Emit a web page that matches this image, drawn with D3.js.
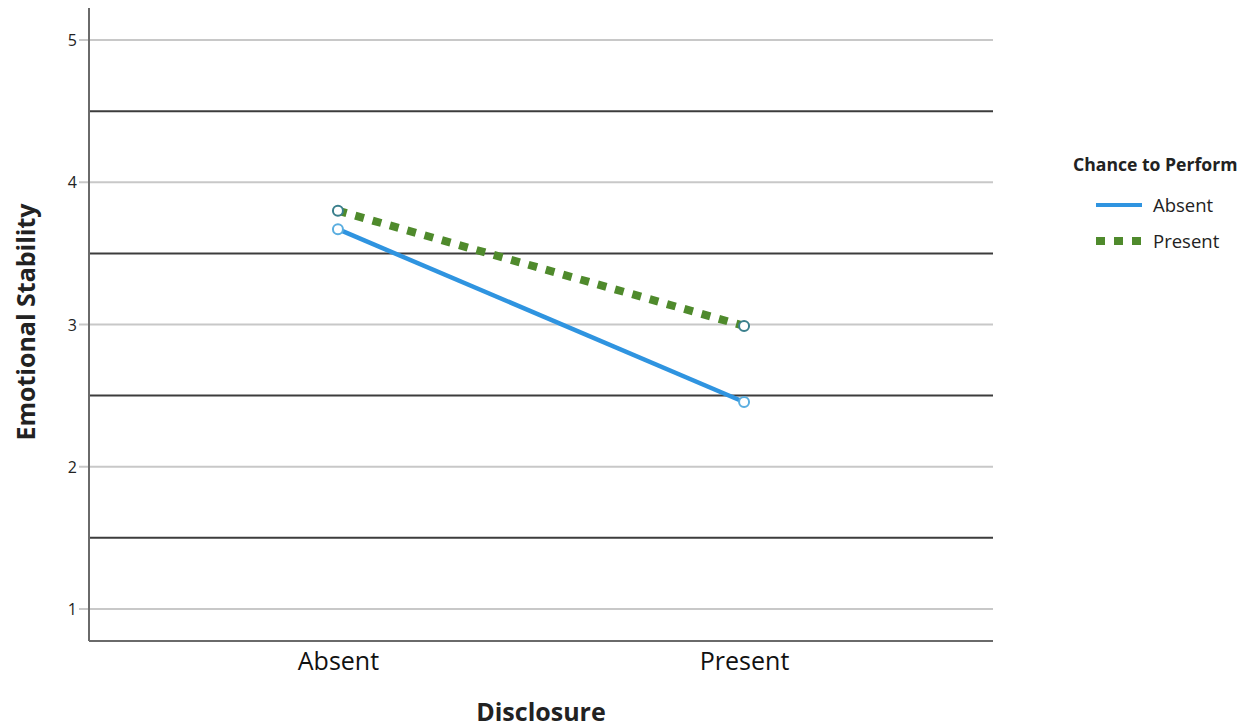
<!DOCTYPE html>
<html><head><meta charset="utf-8">
<script src="https://cdn.jsdelivr.net/npm/d3@7"></script>
<style>body{margin:0;background:#fff;} text{font-family:"Open Sans",sans-serif;}</style>
</head><body>
<svg id="c" width="1250" height="728"></svg>
<script>
const categories = ["Absent", "Present"];
const seriesNames = ["Absent", "Present"];
const absentValues = [3.67, 2.455];
const presentValues = [3.80, 2.99];
const yTicks = [1, 2, 3, 4, 5];
const yMinorLines = [1.5, 2.5, 3.5, 4.5];

(function () {
const svg = d3.select("#c");
const pL = 89, pR = 993, pT = 8, pB = 641;
const x = d3.scalePoint().domain(categories).range([pL, pR]).padding(0.613);
const y = d3.scaleLinear().domain([0.775, 5.225]).range([pB, pT]);

// gray gridlines at ticks
svg.append("g").selectAll("line").data(yTicks).join("line")
  .attr("x1", pL - 10).attr("x2", pR).attr("y1", d => y(d)).attr("y2", d => y(d))
  .attr("stroke", "#c8c8c8").attr("stroke-width", 2);
// dark lines at half
svg.append("g").selectAll("line").data(yMinorLines).join("line")
  .attr("x1", pL).attr("x2", pR).attr("y1", d => y(d)).attr("y2", d => y(d))
  .attr("stroke", "#3c3c3c").attr("stroke-width", 2);

// axes
svg.append("line").attr("x1", pL).attr("x2", pL).attr("y1", pT).attr("y2", pB)
  .attr("stroke", "#6a6a6a").attr("stroke-width", 2);
svg.append("line").attr("x1", pL).attr("x2", pR).attr("y1", pB).attr("y2", pB)
  .attr("stroke", "#6a6a6a").attr("stroke-width", 2);

const yAxis = d3.axisLeft(y).tickValues(yTicks).tickSize(0).tickPadding(0).tickFormat(d3.format("d"));
const gy = svg.append("g").attr("transform", `translate(${pL - 12},0)`).call(yAxis);
gy.select(".domain").remove();
gy.selectAll("text").attr("font-size", 16).attr("fill", "#222").attr("dy", "0.35em")
  .style("font-family", "'Open Sans',sans-serif");

const xAxis = d3.axisBottom(x).tickSize(0).tickPadding(0);
const gx = svg.append("g").attr("transform", `translate(0,${pB + 10})`).call(xAxis);
gx.select(".domain").remove();
gx.selectAll("text").attr("font-size", 25).attr("fill", "#111").attr("dy", "0.75em")
  .style("font-family", "'Open Sans',sans-serif");

// axis titles
svg.append("text").attr("x", 541).attr("y", 721).attr("text-anchor", "middle")
  .attr("font-size", 25).attr("font-weight", "bold").attr("fill", "#222").text("Disclosure");
svg.append("text").attr("transform", "translate(35,322) rotate(-90)").attr("text-anchor", "middle")
  .attr("font-size", 25).attr("font-weight", "bold").attr("fill", "#222").text("Emotional Stability");

const line = d3.line().x((d, i) => x(categories[i])).y(d => y(d));

// present series (green dotted)
svg.append("path").datum(presentValues).attr("d", line).attr("fill", "none")
  .attr("stroke", "#4f8a2c").attr("stroke-width", 8).attr("stroke-dasharray", "9,9");
// absent series (blue)
svg.append("path").datum(absentValues).attr("d", line).attr("fill", "none")
  .attr("stroke", "#2f94e0").attr("stroke-width", 4.5);

// markers
svg.append("g").selectAll("circle").data(presentValues).join("circle")
  .attr("cx", (d, i) => x(categories[i])).attr("cy", d => y(d)).attr("r", 5)
  .attr("fill", "#fff").attr("stroke", "#3a7f8c").attr("stroke-width", 2);
svg.append("g").selectAll("circle").data(absentValues).join("circle")
  .attr("cx", (d, i) => x(categories[i])).attr("cy", d => y(d)).attr("r", 5)
  .attr("fill", "#fff").attr("stroke", "#5aaee0").attr("stroke-width", 2);

// legend
const lg = svg.append("g");
lg.append("text").attr("x", 1073).attr("y", 171).attr("font-size", 17.6).attr("font-weight", "bold")
  .attr("fill", "#222").text("Chance to Perform");
lg.append("line").attr("x1", 1096).attr("x2", 1142).attr("y1", 205).attr("y2", 205)
  .attr("stroke", "#2f94e0").attr("stroke-width", 4);
lg.append("line").attr("x1", 1096).attr("x2", 1142).attr("y1", 241).attr("y2", 241)
  .attr("stroke", "#4f8a2c").attr("stroke-width", 8).attr("stroke-dasharray", "9,9");
lg.selectAll("text.item").data(seriesNames).join("text").attr("class", "item")
  .attr("x", 1153).attr("y", (d, i) => 212 + i * 36).attr("font-size", 18.5).attr("fill", "#222").text(d => d);
})();
</script>
</body></html>
